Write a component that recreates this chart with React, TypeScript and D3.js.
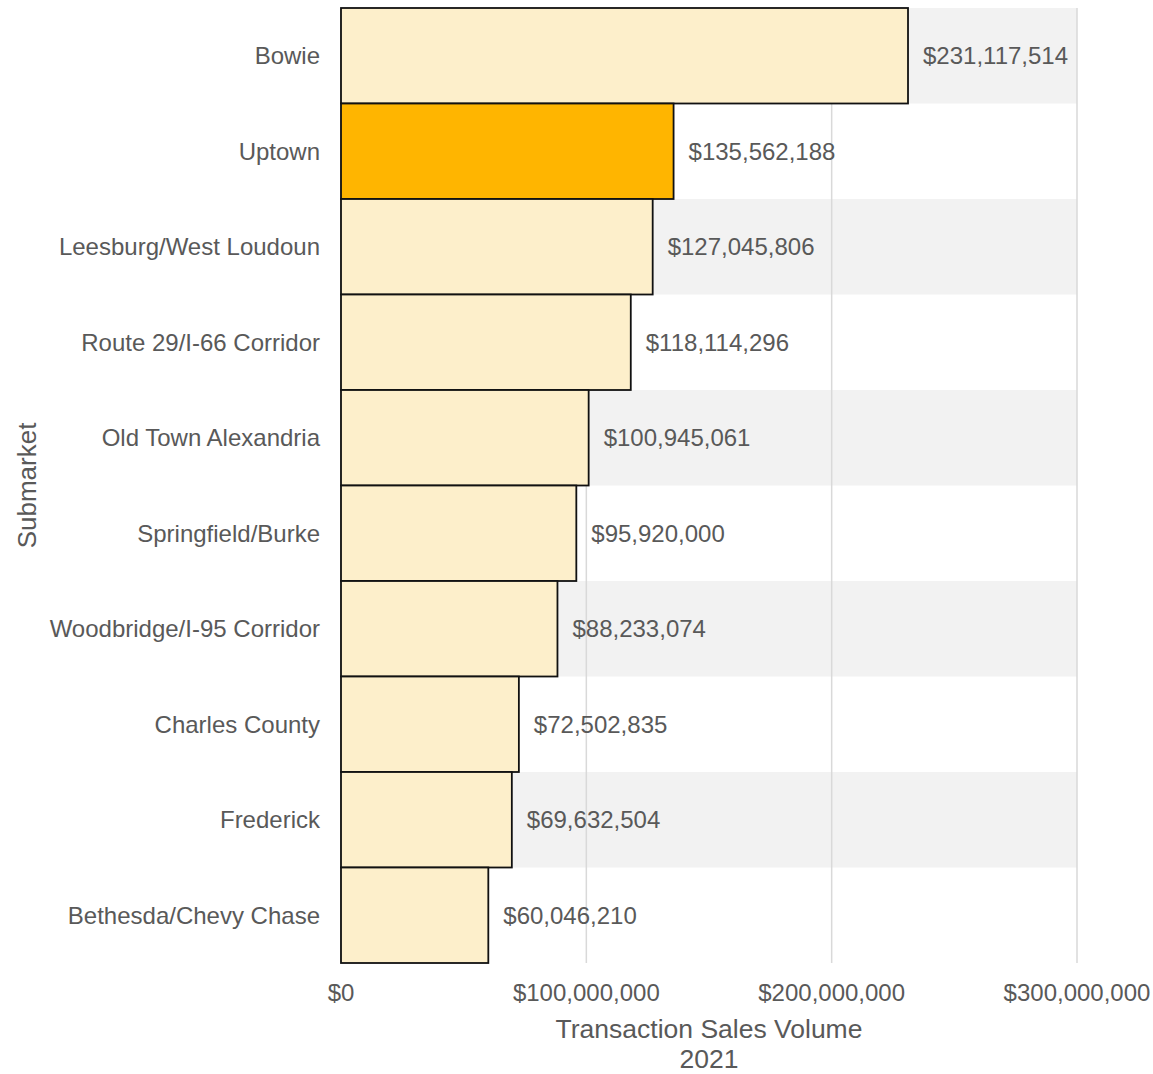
import React from "react";
import * as d3 from "d3";

// Transaction sales volume by submarket, 2021
const submarkets = [
  "Bowie",
  "Uptown",
  "Leesburg/West Loudoun",
  "Route 29/I-66 Corridor",
  "Old Town Alexandria",
  "Springfield/Burke",
  "Woodbridge/I-95 Corridor",
  "Charles County",
  "Frederick",
  "Bethesda/Chevy Chase",
];
const salesVolume = [
  231117514, 135562188, 127045806, 118114296, 100945061, 95920000, 88233074,
  72502835, 69632504, 60046210,
];
const highlighted = ["Uptown"];
const xTicks = [0, 100000000, 200000000, 300000000];

const W = 1153;
const H = 1074;
const margin = { top: 8, right: 76, bottom: 111, left: 341 };
const FONT = "'Liberation Sans', Arial, Helvetica, sans-serif";
const TEXT = "#595959";

export default function App() {
  const plotW = W - margin.left - margin.right;
  const plotH = H - margin.top - margin.bottom;

  const x = d3.scaleLinear().domain([0, 300000000]).range([0, plotW]);
  const y = d3.scaleBand().domain(submarkets).range([0, plotH]).padding(0);

  const money = (v: number) => "$" + d3.format(",")(v);

  return (
    <svg
      width={W}
      height={H}
      style={{ position: "absolute", left: 0, top: 0, display: "block", background: "#fff" }}
      fontFamily={FONT}
    >
      <g transform={`translate(${margin.left},${margin.top})`}>
        {/* alternating row stripes */}
        {submarkets.map((s, i) =>
          i % 2 === 0 ? (
            <rect key={"st" + s} x={0} y={y(s)!} width={plotW} height={y.bandwidth()} fill="#f2f2f2" />
          ) : null
        )}
        {/* vertical gridlines */}
        {xTicks.map((t) => (
          <line
            key={"g" + t}
            x1={x(t)}
            x2={x(t)}
            y1={0}
            y2={plotH}
            stroke={t === 0 ? "#bfbfbf" : "#d9d9d9"}
            strokeWidth={1.5}
          />
        ))}
        {/* bars */}
        {submarkets.map((s, i) => (
          <rect
            key={"b" + s}
            x={x(0)}
            y={y(s)!}
            width={x(salesVolume[i]) - x(0)}
            height={y.bandwidth()}
            fill={highlighted.includes(s) ? "#ffb500" : "#fdefcb"}
            stroke="#111"
            strokeWidth={1.8}
          />
        ))}
        {/* value labels */}
        {submarkets.map((s, i) => (
          <text
            key={"v" + s}
            x={x(salesVolume[i]) + 15}
            y={y(s)! + y.bandwidth() / 2}
            dy="0.35em"
            fontSize={24}
            fill={TEXT}
          >
            {money(salesVolume[i])}
          </text>
        ))}
        {/* category labels */}
        {submarkets.map((s) => (
          <text
            key={"c" + s}
            x={-21}
            y={y(s)! + y.bandwidth() / 2}
            dy="0.35em"
            textAnchor="end"
            fontSize={24}
            fill={TEXT}
          >
            {s}
          </text>
        ))}
        {/* x tick labels */}
        {xTicks.map((t) => (
          <text
            key={"t" + t}
            x={x(t)}
            y={plotH + 38}
            textAnchor="middle"
            fontSize={24}
            fill={TEXT}
          >
            {money(t)}
          </text>
        ))}
        {/* axis titles */}
        <text x={plotW / 2} y={plotH + 75} textAnchor="middle" fontSize={26.5} fill={TEXT}>
          Transaction Sales Volume
        </text>
        <text x={plotW / 2} y={plotH + 105} textAnchor="middle" fontSize={26.5} fill={TEXT}>
          2021
        </text>
      </g>
      <text
        transform={`translate(36,${margin.top + plotH / 2}) rotate(-90)`}
        textAnchor="middle"
        fontSize={26}
        fill={TEXT}
      >
        Submarket
      </text>
    </svg>
  );
}
